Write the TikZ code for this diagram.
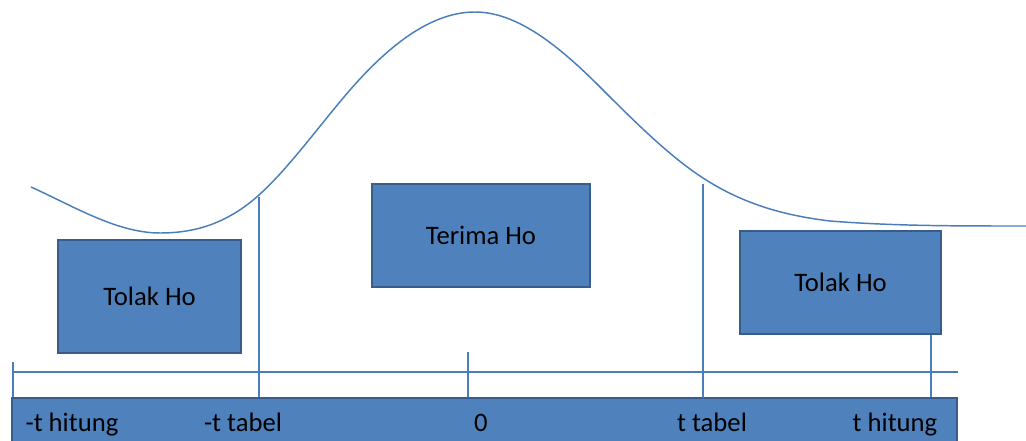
\documentclass[tikz,border=0pt]{standalone}
\usepackage{fontspec}
\setmainfont{Carlito}
\definecolor{boxfill}{HTML}{4F81BD}
\definecolor{boxedge}{HTML}{385D8A}
\definecolor{lineblue}{HTML}{4A7EBB}
\begin{document}
\begin{tikzpicture}[x=0.75pt,y=-0.75pt,
  box/.style={draw=boxedge,line width=2pt,fill=boxfill,inner sep=0pt,
    font=\fontsize{20}{24}\selectfont,text=black},
  ln/.style={draw=lineblue,line width=1.3pt},
  lbl/.style={font=\fontsize{20}{24}\selectfont,text=black,inner sep=0pt,anchor=base}]
\useasboundingbox (0,0) rectangle (1026,441);
% bottom bar
\node[box,minimum width=945*0.75pt,minimum height=46*0.75pt] (bar) at (484.5,421) {};
% labels
\node[lbl] (l1) at (72,432) {-t hitung};
\node[lbl] (l2) at (243,432) {-t tabel};
\node[lbl] (l3) at (481,432) {0};
\node[lbl] (l4) at (712,432) {t tabel};
\node[lbl] (l5) at (895,432) {t hitung};
% axis
\coordinate (axL) at (13,372);
\coordinate (axR) at (958,372);
\draw[ln] (axL) -- (axR);
\coordinate (t0a) at (13,362); \coordinate (t0b) at (13,397);
\draw[ln] (t0a) -- (t0b);
\coordinate (t1a) at (259,197); \coordinate (t1b) at (259,397);
\draw[ln] (t1a) -- (t1b);
\coordinate (t2a) at (468,352); \coordinate (t2b) at (468,397);
\draw[ln] (t2a) -- (t2b);
\coordinate (t3a) at (703,184); \coordinate (t3b) at (703,398);
\draw[ln] (t3a) -- (t3b);
\coordinate (t4a) at (931,331); \coordinate (t4b) at (931,397);
\draw[ln] (t4a) -- (t4b);
% curve
\coordinate (c0) at (31,187);
\coordinate (c1) at (160,233);
\coordinate (c2) at (259,195);
\coordinate (c3) at (350,90);
\coordinate (c4) at (475,12);
\coordinate (c5) at (600,87);
\coordinate (c6) at (703,178);
\coordinate (c7) at (830,221);
\coordinate (c8) at (1026,226);
\draw[lineblue,line width=1.1pt]
  (c0) .. controls (74,206.4) and (117,233) .. (c1)
       .. controls (193,233) and (226,224.7) .. (c2)
       .. controls (289.3,167.7) and (319.7,124.9) .. (c3)
       .. controls (391.7,42.1) and (433.3,12) .. (c4)
       .. controls (516.7,12) and (558.3,45.3) .. (c5)
       .. controls (634.3,121.3) and (668.7,155.7) .. (c6)
       .. controls (745.3,205.5) and (787.7,215.9) .. (c7)
       .. controls (895.3,226.2) and (960.7,226) .. (c8);
% boxes
\node[box,minimum width=183*0.75pt,minimum height=113*0.75pt] (tolakL) at (149.5,296.5) {Tolak Ho};
\node[box,minimum width=218*0.75pt,minimum height=103*0.75pt] (terima) at (481,235.5) {Terima Ho};
\node[box,minimum width=201*0.75pt,minimum height=103*0.75pt] (tolakR) at (840.5,282.5) {Tolak Ho};
\end{tikzpicture}
\end{document}
